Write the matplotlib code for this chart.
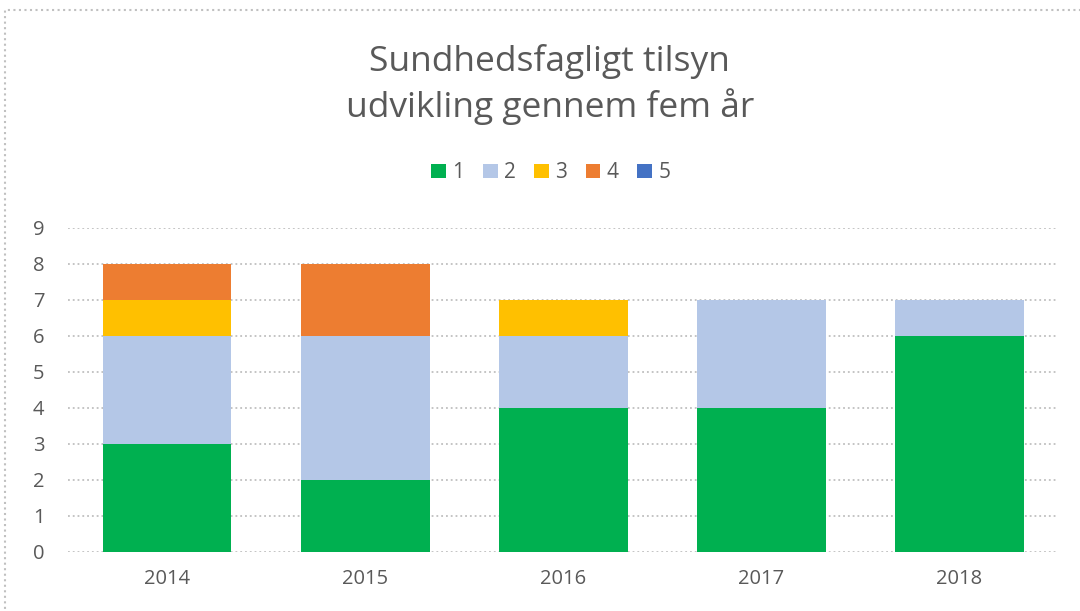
import matplotlib
matplotlib.use('Agg')
import matplotlib.pyplot as plt
import numpy as np
from matplotlib.patches import Rectangle

years = ['2014', '2015', '2016', '2017', '2018']
s1 = [3, 2, 4, 4, 6]
s2 = [3, 4, 2, 3, 1]
s3 = [1, 0, 1, 0, 0]
s4 = [1, 2, 0, 0, 0]
s5 = [0, 0, 0, 0, 0]
series_labels = ['1', '2', '3', '4', '5']
colors = ['#00B050', '#B4C7E7', '#FFC000', '#ED7D31', '#4472C4']

plt.rcParams['font.family'] = ['Open Sans', 'DejaVu Sans']
text_color = '#595959'

fig = plt.figure(figsize=(10.8, 6.11), dpi=100)
ax = fig.add_axes([0.063, 0.0966, 0.917, 0.5304])

# chart border
fig.patches.append(Rectangle((0.005, -0.01), 1.0, 0.993, transform=fig.transFigure,
                             fill=False, edgecolor='#c0c0c0', linewidth=1.5, linestyle=':'))

x = np.arange(len(years))
bottom = np.zeros(len(years))
for vals, lab, col in zip([s1, s2, s3, s4, s5], series_labels, colors):
    ax.bar(x, vals, width=0.65, bottom=bottom, color=col, label=lab, zorder=3)
    bottom += np.array(vals)

ax.set_xlim(-0.5, 4.5)
ax.set_ylim(0, 9)
ax.set_yticks(range(0, 10))
ax.set_xticks(x)
ax.set_xticklabels(years)
ax.tick_params(axis='both', length=0, labelsize=14.5, colors=text_color)
ax.tick_params(axis='y', pad=17)
ax.tick_params(axis='x', pad=12)
ax.grid(axis='y', color='#bfbfbf', linestyle=':', linewidth=1.3, zorder=0)
for sp in ax.spines.values():
    sp.set_visible(False)

fig.text(0.509, 0.9, 'Sundhedsfagligt tilsyn', ha='center', va='center',
         fontsize=25.5, color=text_color)
fig.text(0.509, 0.826, 'udvikling gennem fem år', ha='center', va='center',
         fontsize=25.5, color=text_color)

fig.legend(loc='center', bbox_to_anchor=(0.51, 0.717), ncol=5, frameon=False,
           fontsize=15, labelcolor=text_color, handlelength=0.7, handleheight=0.7,
           handletextpad=0.3, columnspacing=0.9)

fig.savefig('out.png', dpi=100)
